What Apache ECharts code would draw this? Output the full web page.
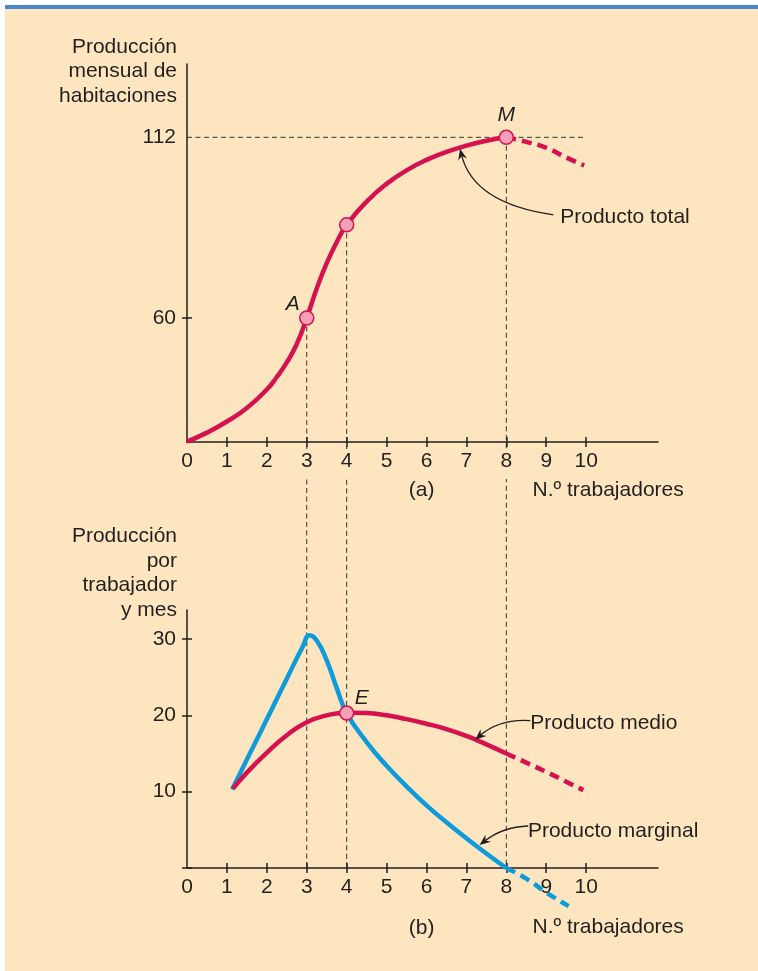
<!DOCTYPE html>
<html>
<head>
<meta charset="utf-8">
<script src="https://cdn.jsdelivr.net/npm/echarts@6/dist/echarts.min.js"></script>
<style>
  html, body { margin: 0; padding: 0; background: #fff; }
  #main { width: 758px; height: 971px; }
</style>
</head>
<body>
<div id="main"></div>
<script>
// ---- datos ----
const xTicks = [1, 2, 3, 4, 5, 6, 7, 8, 9, 10];
const xLabels = [0, 1, 2, 3, 4, 5, 6, 7, 8, 9, 10];
const topYLabels = [60, 112];
const topYTicks = [60];
const botYLabels = [10, 20, 30];
const botYTicks = [0, 10, 20, 30];

// (a) producto total
const totalX = [0, 0.5, 1, 1.5, 2, 2.25, 2.5, 2.75, 3, 3.25, 3.5, 3.75, 4, 4.5, 5, 5.5, 6, 6.5, 7, 7.5, 8];
const totalY = [24.4, 27.0, 30.2, 34.1, 39.4, 43.0, 47.2, 52.5, 60, 68.5, 75.8, 81.8, 86.8, 93.5, 98.6, 102.5, 105.5, 107.8, 109.6, 111.0, 112];
const totalDashX = [8, 8.5, 9, 9.5, 9.95];
const totalDashY = [112, 110.7, 109.0, 106.2, 103.9];
const topPtsX = [3, 4, 8];
const topPtsY = [60, 86.8, 112];
const topPtsName = ['A', '', 'M'];

// (b) producto medio y marginal
const medioX = [1.15, 1.5, 2, 2.5, 3, 3.5, 4, 4.5, 5, 5.5, 6, 6.5, 7, 7.5, 8];
const medioY = [10.4, 12.5, 15.1, 17.4, 19.1, 20.0, 20.35, 20.3, 20.0, 19.5, 18.9, 18.2, 17.3, 16.2, 15.0];
const medioDashX = [8, 8.5, 9, 9.5, 9.93];
const medioDashY = [15.0, 13.8, 12.6, 11.3, 10.2];
const margX = [1.13, 1.5, 2, 2.5, 2.9, 3.07, 3.25, 3.5, 3.75, 4, 4.5, 5, 5.5, 6, 6.5, 7, 7.5, 8];
const margY = [10.3, 14.2, 19.5, 24.8, 29.0, 30.5, 29.8, 27.2, 23.6, 20.3, 16.5, 13.4, 10.7, 8.2, 6.0, 3.9, 1.9, 0];
const margDashX = [8, 8.5, 9, 9.56];
const margDashY = [0, -1.4, -3.2, -5.0];
const botPtsX = [4];
const botPtsY = [20.3];
const botPtsName = ['E'];

// anotaciones: texto y flecha (origen, punto de control, punta) en coordenadas de datos
const notes = [
  { grid: 0, text: 'Producto total', at: [9.35, 88.9], from: [9.18, 89.7], via: [7.17, 93.0], to: [6.84, 108.7] },
  { grid: 1, text: 'Producto medio', at: [8.6, 18.96], from: [8.6, 19.3], via: [7.83, 19.57], to: [7.22, 16.8] },
  { grid: 1, text: 'Producto marginal', at: [8.54, 4.76], from: [8.55, 5.5], via: [7.91, 5.4], to: [7.33, 3.0] }
];

const zip = (xs, ys) => xs.map((x, i) => [x, ys[i]]);

const RED = '#D5124F';
const BLUE = '#0E9BDA';
const INK = '#231F20';
const BG = '#FDE6BF';
const FONT = 'Liberation Sans, Arial, sans-serif';

const chart = echarts.init(document.getElementById('main'));

function mainX(grid) {
  return {
    type: 'value', gridIndex: grid, min: 0, max: 11.8,
    axisLine: { onZero: false, lineStyle: { color: INK, width: 1.5 } },
    axisTick: { customValues: xTicks, length: 5, lineStyle: { color: INK, width: 1.5 } },
    axisLabel: {
      customValues: xLabels, color: INK, fontSize: 21, fontFamily: FONT, margin: 7,
      backgroundColor: BG, padding: [2, 3, 7, 3]
    },
    splitLine: { show: false }
  };
}
function innerX(grid) {
  return {
    type: 'value', gridIndex: grid, min: 0, max: 11.8, position: 'bottom',
    axisLine: { show: false, onZero: false },
    axisTick: { inside: true, customValues: xTicks, length: 5, lineStyle: { color: INK, width: 1.5 } },
    axisLabel: { show: false }, splitLine: { show: false }
  };
}
function mainY(grid, min, max, labels, ticks, name, gap) {
  return {
    type: 'value', gridIndex: grid, min: min, max: max,
    name: name, nameLocation: 'end', nameGap: gap,
    nameTextStyle: {
      align: 'right', verticalAlign: 'bottom', color: INK, fontSize: 21,
      fontFamily: FONT, lineHeight: 24.4, padding: [0, 10, 0, 0]
    },
    axisLine: { onZero: false, lineStyle: { color: INK, width: 1.5 } },
    axisTick: { customValues: ticks, length: 5, lineStyle: { color: INK, width: 1.5 } },
    axisLabel: { customValues: labels, color: INK, fontSize: 21, fontFamily: FONT, margin: 11 },
    splitLine: { show: false }
  };
}
function innerY(grid, min, max, ticks) {
  return {
    type: 'value', gridIndex: grid, min: min, max: max, position: 'left',
    axisLine: { show: false, onZero: false },
    axisTick: { inside: true, customValues: ticks, length: 5, lineStyle: { color: INK, width: 1.5 } },
    axisLabel: { show: false }, splitLine: { show: false }
  };
}

function curve(xi, yi, data, color, dashed) {
  return {
    type: 'line', xAxisIndex: xi, yAxisIndex: yi, data: data,
    smooth: 0.5, showSymbol: false, symbol: 'none', clip: false, z: 2,
    lineStyle: { color: color, width: 4.5, type: dashed ? [10, 6] : 'solid', cap: 'butt' }
  };
}
function points(xi, yi, xs, ys, names, offsets) {
  return {
    type: 'scatter', xAxisIndex: xi, yAxisIndex: yi, z: 4,
    symbolSize: 14,
    itemStyle: { color: '#F4A0B8', borderColor: RED, borderWidth: 1.5, opacity: 1 },
    data: xs.map((x, i) => ({
      value: [x, ys[i]], name: names[i],
      label: { show: names[i] !== '', position: 'inside', offset: offsets[i] }
    })),
    label: { formatter: '{b}', color: INK, fontSize: 21, fontStyle: 'italic', fontFamily: FONT }
  };
}

const option = {
  animation: false,
  backgroundColor: '#ffffff',
  textStyle: { fontFamily: FONT },
  grid: [
    { left: 187, top: 64, width: 471, height: 378 },
    { left: 187, top: 610, width: 471, height: 258 }
  ],
  xAxis: [mainX(0), innerX(0), mainX(1), innerX(1)],
  yAxis: [
    mainY(0, 24.3, 133.1, topYLabels, topYTicks, 'Producción\nmensual de\nhabitaciones', -44),
    innerY(0, 24.3, 133.1, topYTicks),
    mainY(1, 0, 33.8, botYLabels, botYTicks, 'Producción\npor\ntrabajador\ny mes', -12),
    innerY(1, 0, 33.8, botYTicks)
  ],
  series: [
    curve(0, 0, zip(totalX, totalY), RED, false),
    curve(0, 0, zip(totalDashX, totalDashY), RED, true),
    points(0, 0, topPtsX, topPtsY, topPtsName, [[-14, -14], [0, 0], [0, -22]]),
    curve(2, 2, zip(margX, margY), BLUE, false),
    curve(2, 2, zip(margDashX, margDashY), BLUE, true),
    curve(2, 2, zip(medioX, medioY), RED, false),
    curve(2, 2, zip(medioDashX, medioDashY), RED, true),
    points(2, 2, botPtsX, botPtsY, botPtsName, [[15, -15]])
  ]
};
chart.setOption(option);

// elementos que dependen de las escalas: líneas guía, flechas y textos
const toPx = (grid, p) => chart.convertToPixel(
  grid === 0 ? { xAxisIndex: 0, yAxisIndex: 0 } : { xAxisIndex: 2, yAxisIndex: 2 }, p);
const guideStyle = { stroke: '#333333', lineWidth: 1, lineDash: [5, 3.5], fill: null };

const graphics = [
  { id: 'panel', type: 'rect', z: -10, silent: true, shape: { x: 5, y: 5, width: 753, height: 966 }, style: { fill: BG } },
  { id: 'bar', type: 'rect', z: -9, silent: true, shape: { x: 5, y: 5, width: 753, height: 4 }, style: { fill: '#4A87C8' } }
];
topPtsX.forEach((x, i) => {
  const a = toPx(0, [x, topPtsY[i]]);
  const b = toPx(1, [x, 0]);
  graphics.push({ id: 'v' + i, type: 'line', z: -1, silent: true,
    shape: { x1: a[0], y1: a[1], x2: b[0], y2: b[1] }, style: guideStyle });
});
const h0 = toPx(0, [0, 112]);
const h1 = toPx(0, [totalDashX[totalDashX.length - 1], 112]);
graphics.push({ id: 'h', type: 'line', z: -1, silent: true,
  shape: { x1: h0[0], y1: h0[1], x2: h1[0], y2: h1[1] }, style: guideStyle });

notes.forEach((n, i) => {
  const a = toPx(n.grid, n.from), c = toPx(n.grid, n.via), b = toPx(n.grid, n.to);
  const at = toPx(n.grid, n.at);
  let ux = b[0] - c[0], uy = b[1] - c[1];
  const l = Math.hypot(ux, uy); ux /= l; uy /= l;
  const px = -uy, py = ux;
  const L = 11, W = 4.5;
  graphics.push({ id: 'ac' + i, type: 'bezierCurve', z: 5, silent: true,
    shape: { x1: a[0], y1: a[1], cpx1: c[0], cpy1: c[1], x2: b[0] - ux * 6, y2: b[1] - uy * 6 },
    style: { stroke: INK, lineWidth: 1.3, fill: null } });
  graphics.push({ id: 'ah' + i, type: 'polygon', z: 5, silent: true,
    shape: { points: [
      [b[0], b[1]],
      [b[0] - ux * L + px * W, b[1] - uy * L + py * W],
      [b[0] - ux * 7.5, b[1] - uy * 7.5],
      [b[0] - ux * L - px * W, b[1] - uy * L - py * W]
    ] },
    style: { fill: INK } });
  graphics.push({ id: 'nt' + i, type: 'text', z: 5, silent: true, x: at[0], y: at[1],
    style: { text: n.text, fill: INK, font: '21px ' + FONT, align: 'left', verticalAlign: 'middle' } });
});

const txt = (id, text, x, y, align) => ({
  id: id, type: 'text', z: 5, silent: true, x: x, y: y,
  style: { text: text, fill: INK, font: '21px ' + FONT, align: align, verticalAlign: 'middle' }
});
graphics.push(txt('ta', '(a)', 421.7, 490, 'center'));
graphics.push(txt('tan', 'N.º trabajadores', 532.5, 490, 'left'));
graphics.push(txt('tb', '(b)', 421.7, 928, 'center'));
graphics.push(txt('tbn', 'N.º trabajadores', 532.5, 927.5, 'left'));

chart.setOption({ graphic: graphics });
</script>
</body>
</html>
